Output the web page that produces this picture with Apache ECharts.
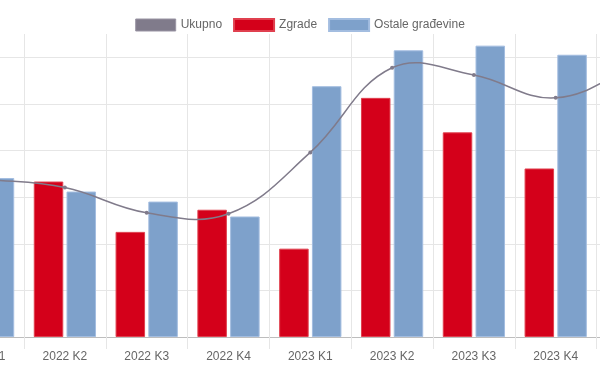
<!DOCTYPE html>
<html>
<head>
<meta charset="utf-8">
<script src="https://cdn.jsdelivr.net/npm/echarts@6/dist/echarts.min.js"></script>
<style>
html,body{margin:0;padding:0;background:#fff;}
#chart{width:600px;height:379px;}
</style>
</head>
<body>
<div id="chart"></div>
<script>
const categories = ['2022 K1','2022 K2','2022 K3','2022 K4','2023 K1','2023 K2','2023 K3','2023 K4','2024 K1'];
const ukupno = [67.8, 64.1, 53.3, 52.9, 79.2, 115.5, 112.4, 102.6, 117.0];
const zgrade = [70.0, 66.7, 45.1, 54.6, 37.9, 102.6, 87.8, 72.3, 80.0];
const ostale = [68.2, 62.4, 58.1, 51.7, 107.6, 123.0, 125.0, 121.1, 130.0];
const seriesNames = ['Ukupno','Zgrade','Ostale građevine'];

const GRAY = '#807b8b', RED = '#d4001a', BLUE = '#7ea1cb';
const font = '"Liberation Sans", Arial, Helvetica, sans-serif';
const chart = echarts.init(document.getElementById('chart'));
const catW = 81.8;
const TENSION = 0.4;

function controlPoints(prev, cur, next) {
  const d01 = Math.hypot(cur[0]-prev[0], cur[1]-prev[1]);
  const d12 = Math.hypot(next[0]-cur[0], next[1]-cur[1]);
  let s01 = d01/(d01+d12), s12 = d12/(d01+d12);
  if (!isFinite(s01)) s01 = 0; if (!isFinite(s12)) s12 = 0;
  const fa = TENSION*s01, fb = TENSION*s12;
  return {
    prev: [cur[0] - fa*(next[0]-prev[0]), cur[1] - fa*(next[1]-prev[1])],
    next: [cur[0] + fb*(next[0]-prev[0]), cur[1] + fb*(next[1]-prev[1])]
  };
}

function renderSpline(params, api) {
  const i = params.dataIndex;
  const n = ukupno.length;
  if (i >= n - 1) return null;
  const P = j => api.coord([Math.max(0, Math.min(n-1, j)), ukupno[Math.max(0, Math.min(n-1, j))]]);
  const a = controlPoints(P(i-1), P(i), P(i+1));
  const b = controlPoints(P(i), P(i+1), P(i+2));
  const p0 = P(i), p1 = P(i+1);
  return {
    type: 'bezierCurve',
    shape: {x1: p0[0], y1: p0[1], x2: p1[0], y2: p1[1],
            cpx1: a.next[0], cpy1: a.next[1], cpx2: b.prev[0], cpy2: b.prev[1]},
    style: {stroke: GRAY, lineWidth: 1.5, fill: null}
  };
}

chart.setOption({
  animation: false,
  textStyle: {fontFamily: font},
  legend: {
    top: 13, left: 'center',
    itemWidth: 40, itemHeight: 12, itemGap: 11,
    textStyle: {fontSize: 12, color: '#666', fontFamily: font},
    data: [
      {name: seriesNames[0], icon: 'rect', itemStyle: {color: GRAY, borderColor: '#9994a3', borderWidth: 1}},
      {name: seriesNames[1], icon: 'rect', itemStyle: {color: RED}},
      {name: seriesNames[2], icon: 'rect', itemStyle: {color: BLUE}}
    ]
  },
  grid: {left: 24 - catW, top: 34, width: catW * categories.length, height: 303,
         containLabel: false, outerBoundsMode: 'none'},
  xAxis: {
    type: 'category', data: categories, boundaryGap: true,
    axisLine: {show: true, lineStyle: {color: '#bdbdbd', width: 1}},
    axisTick: {show: true, length: 12, lineStyle: {color: '#e6e6e6'}},
    splitLine: {show: true, lineStyle: {color: '#e6e6e6'}},
    axisLabel: {color: '#666', fontSize: 12, margin: 14, fontFamily: font}
  },
  yAxis: {
    type: 'value', min: 0, max: 130, interval: 20,
    axisLine: {show: false}, axisTick: {show: false}, axisLabel: {show: false},
    splitLine: {show: true, lineStyle: {color: ['#e6e6e6','#e6e6e6','#e6e6e6','#e6e6e6','#e6e6e6','#e6e6e6','#e6e6e6','rgba(0,0,0,0)']}}
  },
  series: [
    {name: seriesNames[0], type: 'line', data: ukupno, z: 11,
     symbol: 'circle', symbolSize: 4, showSymbol: true,
     lineStyle: {color: GRAY, width: 0, opacity: 0}, itemStyle: {color: GRAY}},
    {name: seriesNames[1], type: 'bar', data: zgrade, barWidth: 29.5, barGap: '11%',
     itemStyle: {color: RED, borderColor: '#e0404f', borderWidth: 1}},
    {name: seriesNames[2], type: 'bar', data: ostale, barWidth: 29.5, barGap: '11%',
     itemStyle: {color: BLUE, borderColor: '#a3bde0', borderWidth: 1}},
    {type: 'custom', name: 'ukupno-spline', data: ukupno.map((v, i) => [i, v]),
     encode: {x: 0, y: 1}, renderItem: renderSpline, z: 10, silent: true}
  ]
});
</script>
</body>
</html>
